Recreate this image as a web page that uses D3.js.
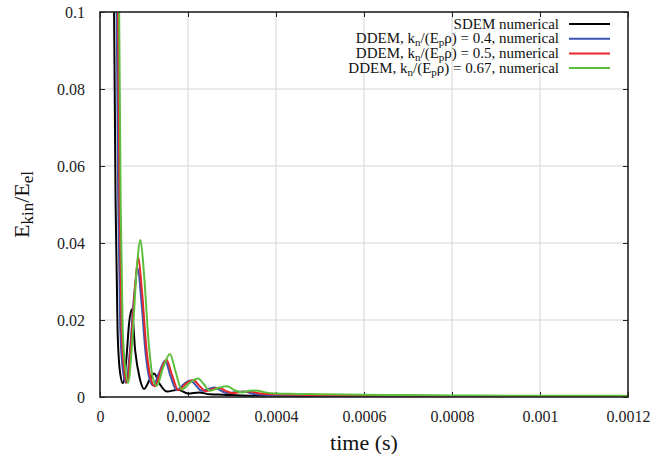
<!DOCTYPE html>
<html><head><meta charset="utf-8">
<script src="https://cdn.jsdelivr.net/npm/d3@7"></script>
<style>body{margin:0;background:#fff}svg{display:block}svg text{font-family:"Liberation Serif","Times New Roman",Times,"DejaVu Serif",serif}</style>
</head><body><svg id="c" width="668" height="454"></svg>
<script>
// ---- data ----
const xTicks = [0, 0.0002, 0.0004, 0.0006, 0.0008, 0.001, 0.0012];
const xTickLabels = ["0", "0.0002", "0.0004", "0.0006", "0.0008", "0.001", "0.0012"];
const yTicks = [0, 0.02, 0.04, 0.06, 0.08, 0.1];
const yTickLabels = ["0", "0.02", "0.04", "0.06", "0.08", "0.1"];

const sdemT = [2.0e-5,3.2e-5,3.55e-5,4.0e-5,4.6e-5,5.2e-5,6.0e-5,6.6e-5,7.2e-5,8.0e-5,9.0e-5,1.0e-4,1.13e-4,1.23e-4,1.35e-4,1.52e-4,1.78e-4,2.0e-4,2.25e-4,2.5e-4,2.8e-4,3.2e-4,4e-4,5e-4,6e-4,8e-4,1.2e-3];
const sdemV = [0.6,0.1,0.05,0.017,0.006,0.0036,0.010,0.019,0.0228,0.012,0.005,0.0021,0.0045,0.0061,0.0035,0.0014,0.0019,0.0009,0.0012,0.0007,0.0006,0.0004,0.0003,0.0002,0.00015,0.0001,0.00005];

const d04T = [2.5e-5,3.8e-5,4.15e-5,4.6e-5,5.2e-5,5.9e-5,6.8e-5,7.8e-5,8.6e-5,9.4e-5,1.04e-4,1.13e-4,1.21e-4,1.35e-4,1.48e-4,1.6e-4,1.74e-4,1.92e-4,2.06e-4,2.18e-4,2.31e-4,2.46e-4,2.6e-4,2.75e-4,2.9e-4,3.1e-4,3.27e-4,3.5e-4,4e-4,5e-4,6e-4,7e-4,9e-4,1.2e-3];
const d04V = [0.6,0.1,0.05,0.018,0.007,0.0037,0.012,0.027,0.0334,0.025,0.011,0.0045,0.003,0.0065,0.0094,0.0055,0.0018,0.0035,0.0043,0.003,0.0016,0.0021,0.0025,0.0016,0.001,0.0013,0.0014,0.0008,0.0005,0.0004,0.0003,0.0002,0.00012,0.00008];

const d05T = [2.7e-5,4.1e-5,4.45e-5,4.9e-5,5.5e-5,6.1e-5,7.0e-5,8.0e-5,8.7e-5,9.5e-5,1.06e-4,1.16e-4,1.25e-4,1.38e-4,1.51e-4,1.64e-4,1.78e-4,1.97e-4,2.12e-4,2.25e-4,2.41e-4,2.55e-4,2.7e-4,2.85e-4,3.02e-4,3.2e-4,3.4e-4,3.65e-4,4e-4,5e-4,6e-4,7e-4,9e-4,1.2e-3];
const d05V = [0.6,0.1,0.05,0.018,0.007,0.0037,0.013,0.029,0.0363,0.028,0.012,0.0045,0.0028,0.0068,0.0097,0.0056,0.0018,0.0036,0.0044,0.003,0.0015,0.002,0.0024,0.0016,0.001,0.0013,0.0014,0.0009,0.0007,0.0005,0.0004,0.0003,0.0002,0.0001];

const d067T = [2.9e-5,4.35e-5,4.7e-5,5.15e-5,5.8e-5,6.4e-5,7.3e-5,8.4e-5,9.2e-5,1.0e-4,1.1e-4,1.2e-4,1.29e-4,1.44e-4,1.59e-4,1.72e-4,1.86e-4,2.05e-4,2.23e-4,2.36e-4,2.5e-4,2.7e-4,2.89e-4,3.05e-4,3.23e-4,3.4e-4,3.55e-4,3.75e-4,4.0e-4,4.5e-4,5e-4,6e-4,7e-4,8e-4,1.0e-3,1.2e-3];
const d067V = [0.6,0.1,0.05,0.018,0.007,0.0037,0.014,0.034,0.0408,0.032,0.015,0.005,0.0029,0.0078,0.0112,0.0065,0.0019,0.0038,0.0048,0.0033,0.0016,0.0024,0.0028,0.0018,0.0012,0.0016,0.0017,0.0012,0.0009,0.0008,0.0007,0.0006,0.0005,0.0004,0.0003,0.0003];

const seriesNames = ["SDEM", "DDEM04", "DDEM05", "DDEM067"];
const seriesColors = ["#000000", "#3a56b0", "#e8262a", "#5cbf3e"];

// ---- layout ----
const svg = d3.select("#c");
const L = 100, R = 628, T = 12, B = 397;
const x = d3.scaleLinear().domain([0, 0.0012]).range([L, R]);
const y = d3.scaleLinear().domain([0, 0.1]).range([B, T]);

// grid
svg.append("g").selectAll("line").data(xTicks.slice(1, -1)).join("line")
  .attr("x1", d => x(d)).attr("x2", d => x(d)).attr("y1", T).attr("y2", B)
  .attr("stroke", "#d4d4d4").attr("stroke-width", 1);
svg.append("g").selectAll("line").data(yTicks.slice(1, -1)).join("line")
  .attr("y1", d => y(d)).attr("y2", d => y(d)).attr("x1", L).attr("x2", R)
  .attr("stroke", "#d4d4d4").attr("stroke-width", 1);

// axes (ticks inward, mirrored)
const tk = 5;
const axB = svg.append("g").attr("transform", `translate(0,${B})`)
  .call(d3.axisBottom(x).tickValues(xTicks).tickSize(-tk).tickFormat((d, i) => xTickLabels[i]).tickPadding(14));
const axT = svg.append("g").attr("transform", `translate(0,${T})`)
  .call(d3.axisTop(x).tickValues(xTicks).tickSize(-tk).tickFormat(""));
const axL = svg.append("g").attr("transform", `translate(${L},0)`)
  .call(d3.axisLeft(y).tickValues(yTicks).tickSize(-tk).tickFormat((d, i) => yTickLabels[i]).tickPadding(15));
const axR = svg.append("g").attr("transform", `translate(${R},0)`)
  .call(d3.axisRight(y).tickValues(yTicks).tickSize(-tk).tickFormat(""));
[axB, axT, axL, axR].forEach(a => {
  a.attr("font-family", null);
  a.select(".domain").remove();
  a.selectAll(".tick line").attr("stroke", "#222").attr("stroke-width", 1);
  a.selectAll("text").attr("font-size", 16).attr("fill", "#222");
});

// clip
svg.append("clipPath").attr("id", "clip").append("rect")
  .attr("x", L).attr("y", T).attr("width", R - L).attr("height", B - T);

const line = d3.line().x(d => x(d[0])).y(d => y(d[1])).curve(d3.curveMonotoneX);
const seriesData = [
  d3.zip(sdemT, sdemV), d3.zip(d04T, d04V), d3.zip(d05T, d05V), d3.zip(d067T, d067V)
];
const gl = svg.append("g").attr("clip-path", "url(#clip)");
seriesData.forEach((s, i) => {
  gl.append("path").datum(s).attr("d", line).attr("fill", "none")
    .attr("stroke", seriesColors[i]).attr("stroke-width", 2).attr("stroke-linejoin", "round");
});

// frame
svg.append("rect").attr("x", L).attr("y", T).attr("width", R - L).attr("height", B - T)
  .attr("fill", "none").attr("stroke", "#222").attr("stroke-width", 1.6);

// legend
const legRows = [
  [["SDEM numerical", 0]],
  [["DDEM, k", 0], ["n", 1], ["/(E", 0], ["p", 1], ["ρ) = 0.4, numerical", 0]],
  [["DDEM, k", 0], ["n", 1], ["/(E", 0], ["p", 1], ["ρ) = 0.5, numerical", 0]],
  [["DDEM, k", 0], ["n", 1], ["/(E", 0], ["p", 1], ["ρ) = 0.67, numerical", 0]]
];
const legBase = [28.5, 43.2, 57.9, 72.6];
legRows.forEach((row, i) => {
  const t = svg.append("text").attr("x", 559).attr("y", legBase[i]).attr("text-anchor", "end")
    .attr("font-size", 15).attr("fill", "#111");
  row.forEach(([s, sub]) => {
    const ts = t.append("tspan").text(s);
    if (sub) ts.attr("font-size", 11).attr("baseline-shift", "-2.5");
  });
  svg.append("line").attr("x1", 569).attr("x2", 610).attr("y1", legBase[i] - 4.5).attr("y2", legBase[i] - 4.5)
    .attr("stroke", seriesColors[i]).attr("stroke-width", 2);
});

// axis titles
svg.append("text").attr("x", (L + R) / 2).attr("y", 450).attr("text-anchor", "middle")
  .attr("font-size", 22).attr("fill", "#111").text("time (s)");
const yl = svg.append("text").attr("transform", `translate(29,${(T + B) / 2}) rotate(-90)`)
  .attr("text-anchor", "middle").attr("font-size", 22).attr("fill", "#111");
yl.append("tspan").text("E");
yl.append("tspan").text("kin").attr("font-size", 17).attr("baseline-shift", "-4");
yl.append("tspan").text("/E");
yl.append("tspan").text("el").attr("font-size", 17).attr("baseline-shift", "-4");
</script></body></html>
